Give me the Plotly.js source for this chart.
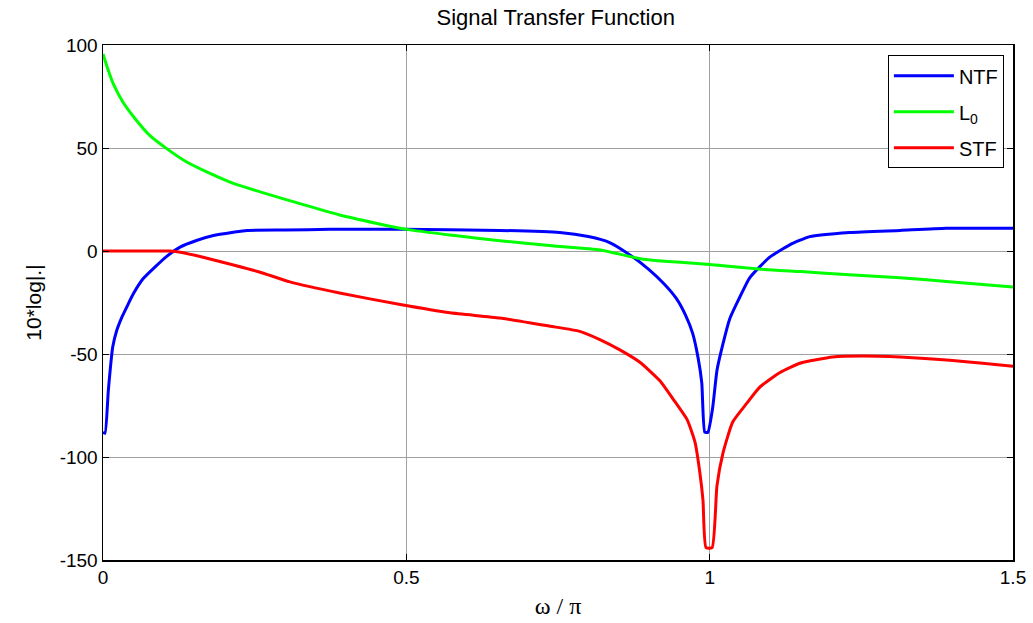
<!DOCTYPE html>
<html>
<head>
<meta charset="utf-8">
<script src="https://cdn.plot.ly/plotly-3.0.1.min.js"></script>
<style>html,body{margin:0;padding:0;background:#fff;}#chart{width:1033px;height:623px;}</style>
</head>
<body>
<div id="chart"></div>
<script>
// NTF (blue)
const ntfX = [0, 0.0033, 0.0088, 0.016, 0.0226, 0.031, 0.039, 0.05, 0.066, 0.086, 0.105, 0.127, 0.154, 0.182, 0.215, 0.237, 0.3, 0.374, 0.49, 0.654, 0.753, 0.80, 0.836, 0.869, 0.90, 0.925, 0.945, 0.96, 0.972, 0.981, 0.987, 0.992, 0.997, 1.005, 1.012, 1.022, 1.033, 1.047, 1.066, 1.099, 1.132, 1.165, 1.231, 1.314, 1.39, 1.5];
const ntfY = [-88, -88.5, -67.6, -46.6, -38.6, -32.2, -27.3, -20.8, -13.5, -7.7, -2.6, 1.9, 5.1, 7.5, 9.1, 10, 10.2, 10.5, 10.5, 10, 9, 7, 4, -2, -9, -16, -23, -31, -40, -52, -64, -88, -88, -76, -58, -45, -33, -24, -13, -3, 3, 7, 9, 10, 11, 11];
// L0 (green)
const l0X = [0, 0.0088, 0.017, 0.033, 0.053, 0.077, 0.105, 0.138, 0.171, 0.215, 0.259, 0.336, 0.39, 0.45, 0.5, 0.58, 0.654, 0.74, 0.82, 0.89, 1.0, 1.09, 1.15, 1.23, 1.314, 1.4, 1.5];
const l0Y = [95.6, 87.6, 81.1, 72.2, 64.2, 56.1, 49.7, 43.2, 38.4, 32.8, 28.7, 22, 17.5, 13.5, 10.5, 7.5, 5, 2.5, 0.5, -4, -6.5, -9, -10, -11.5, -13, -15, -17.5];
// STF (red)
const stfX = [0, 0.05, 0.11, 0.13, 0.16, 0.215, 0.259, 0.308, 0.39, 0.49, 0.572, 0.654, 0.737, 0.786, 0.819, 0.852, 0.885, 0.918, 0.94, 0.963, 0.976, 0.984, 0.989, 0.994, 1.004, 1.012, 1.022, 1.038, 1.061, 1.083, 1.116, 1.149, 1.203, 1.25, 1.314, 1.396, 1.45, 1.5];
const stfY = [0, 0, 0, -0.7, -2.7, -6.8, -10.3, -15, -20.4, -26, -30, -32.5, -36.5, -39, -43, -48, -54, -63, -72, -82, -93, -108, -121, -144, -144, -114, -98, -83, -74, -66, -59, -54.5, -51.5, -51, -51.5, -53, -54.5, -56];

const xTicks = [0, 0.5, 1, 1.5];
const xTickText = ['0', '0.5', '1', '1.5'];
const yTicks = [-150, -100, -50, 0, 50, 100];
const yTickText = ['-150', '-100', '-50', '0', '50', '100'];

const lineShape = {shape: 'spline', smoothing: 0.5, width: 3};
const traces = [
  {x: ntfX, y: ntfY, name: 'NTF', legendgroup: 'a', mode: 'lines', line: Object.assign({color: '#0000ff'}, lineShape)},
  {x: l0X, y: l0Y, name: 'L<sub>0</sub>', legendgroup: 'b', mode: 'lines', line: Object.assign({color: '#00ff00'}, lineShape)},
  {x: stfX, y: stfY, name: 'STF', legendgroup: 'c', mode: 'lines', line: Object.assign({color: '#ff0000'}, lineShape)}
];

const axCommon = {
  showline: true, linecolor: '#000', linewidth: 1.5, mirror: 'allticks',
  ticks: 'inside', ticklen: 6, tickcolor: '#000', tickwidth: 1,
  showgrid: true, gridcolor: '#a0a0a0', gridwidth: 1,
  zeroline: false,
  tickfont: {family: 'Liberation Sans, Arial, sans-serif', size: 19, color: '#000'}
};

const layout = {
  width: 1033, height: 623,
  margin: {l: 103, r: 20, t: 45, b: 63},
  paper_bgcolor: '#fff', plot_bgcolor: '#fff',
  title: {text: 'Signal Transfer Function', x: 0.538, xanchor: 'center', y: 0.985, yanchor: 'top',
          font: {family: 'Liberation Sans, Arial, sans-serif', size: 22, color: '#000'}},
  xaxis: Object.assign({}, axCommon, {
    range: [0, 1.5], tickvals: xTicks, ticktext: xTickText,
    title: {text: 'ω / π', standoff: 10, font: {family: 'Liberation Serif, Times New Roman, serif', size: 24, color: '#000'}}
  }),
  yaxis: Object.assign({}, axCommon, {
    range: [-150, 100], tickvals: yTicks, ticktext: yTickText,
    title: {text: '10*log|.|', standoff: 12, font: {family: 'Liberation Sans, Arial, sans-serif', size: 21, color: '#000'}}
  }),
  showlegend: true,
  legend: {
    x: 0.99, xanchor: 'right', y: 0.98, yanchor: 'top',
    bgcolor: '#fff', bordercolor: '#000', borderwidth: 1,
    font: {family: 'Liberation Sans, Arial, sans-serif', size: 20, color: '#000'},
    tracegroupgap: 7,
    itemwidth: 60
  }
};

Plotly.newPlot('chart', traces, layout, {displayModeBar: false, staticPlot: true});
</script>
</body>
</html>
